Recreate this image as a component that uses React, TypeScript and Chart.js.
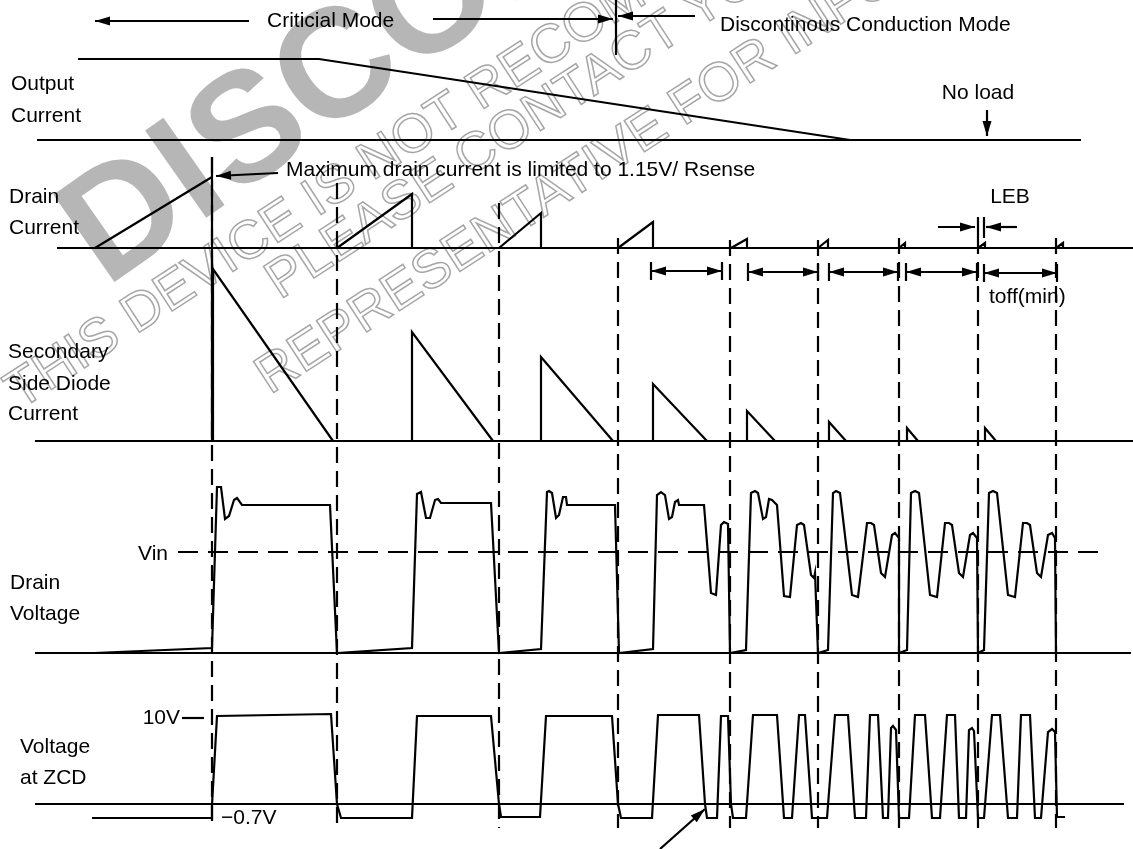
import React, { useEffect, useRef } from "react";
import { Chart, registerables } from "chart.js";

Chart.register(...registerables);

type Pt = [number, number];

// diagram units: x = time across the page, y = level (grows downwards)
const switchOnTimes = [212, 337, 499, 618, 730, 818, 899, 978, 1056];
const switchOnTops = [157, 183, 203, 238, 240, 240, 238, 238, 238];
const switchOnBottom = 828;

const outputCurrent: Pt[] = [[78, 59], [319, 59], [850, 140]];
const outputBase: Pt[] = [[37, 140], [1081, 140]];

const drainCurrentBase: Pt[] = [[57, 248], [1133, 248]];
const drainCurrentPulses: Pt[][] = [
  [[95, 248], [212, 177]],
  [[212, 157], [212, 442]],
  [[337, 248], [412, 194], [412, 248]],
  [[499, 248], [541, 213], [541, 248]],
  [[618, 248], [653, 222], [653, 248]],
  [[731, 248], [747, 239], [747, 248]],
  [[818, 248], [828, 240], [828, 248]],
  [[899, 248], [905, 243], [905, 248]],
  [[978, 248], [985, 243], [985, 248]],
  [[1056, 248], [1063, 243], [1063, 248]],
];

const diodeBase: Pt[] = [[35, 441], [1133, 441]];
const diodePulses: Pt[][] = [
  [[213, 441], [213, 269], [333, 441]],
  [[412, 441], [412, 332], [493, 441]],
  [[541, 441], [541, 357], [613, 441]],
  [[653, 441], [653, 384], [707, 441]],
  [[747, 441], [747, 411], [775, 441]],
  [[829, 441], [829, 422], [846, 441]],
  [[907, 441], [907, 428], [918, 441]],
  [[985, 441], [985, 428], [996, 441]],
];

const drainVoltageBase: Pt[] = [[35, 653], [1131, 653]];
const vinLine: Pt[] = [[178, 552], [1100, 552]];
const drainVoltage: Pt[] = [
  [94, 653], [212, 648], [217, 487], [221, 487], [225, 519], [229, 516], [234, 500], [237, 498], [242, 505], [330, 505], [337, 653],
  [412, 648], [417, 494], [421, 492], [426, 518], [430, 518], [435, 500], [438, 499], [441, 503], [491, 503], [499, 653],
  [541, 649], [547, 492], [549, 491], [552, 493], [556, 518], [559, 515], [563, 497], [566, 497], [567, 505], [615, 505], [619, 653],
  [653, 649], [657, 495], [661, 492], [665, 495], [669, 519], [672, 517], [675, 502], [678, 500], [679, 505], [704, 505],
  [711, 593], [716, 595], [721, 525], [724, 522], [728, 524], [730, 653],
  [746, 650], [751, 493], [755, 491], [758, 493], [763, 519], [766, 517], [769, 499], [772, 500], [775, 503], [777, 505],
  [784, 596], [790, 597], [797, 525], [801, 523], [804, 525], [811, 575], [814, 578], [815, 573], [818, 653],
  [828, 650], [833, 493], [836, 491], [840, 493], [852, 595], [858, 597], [867, 523], [871, 523], [874, 525],
  [881, 573], [885, 577], [892, 535], [895, 533], [899, 538], [899, 653],
  [907, 650], [911, 493], [915, 491], [919, 493], [930, 595], [937, 597], [945, 523], [949, 523], [952, 525],
  [959, 573], [963, 577], [970, 535], [973, 533], [977, 538], [978, 653],
  [984, 650], [989, 493], [993, 491], [997, 493], [1008, 595], [1015, 597], [1023, 523], [1027, 523], [1030, 525],
  [1037, 573], [1041, 577], [1048, 535], [1052, 533], [1055, 538], [1056, 653],
];

const zcdBase: Pt[] = [[35, 804], [1124, 804]];
const zcdTick10V: Pt[] = [[182, 718], [204, 718]];
const zcdVoltage: Pt[] = [
  [92, 818], [212, 818], [212, 805], [217, 716], [331, 714], [337, 804], [341, 818], [412, 818], [417, 716], [491, 716],
  [499, 804], [501, 817], [540, 817], [546, 716], [612, 716], [618, 804], [621, 818], [652, 818], [658, 715], [699, 715],
  [705, 804], [707, 818], [717, 818], [721, 716], [728, 716], [731, 804], [733, 818], [746, 818], [753, 715], [777, 715],
  [784, 818], [792, 818], [799, 715], [805, 715], [812, 818], [827, 818], [835, 715], [848, 715], [855, 818], [866, 818],
  [870, 715], [878, 715], [883, 818], [888, 818], [891, 728], [893, 726], [896, 730], [899, 818], [909, 818], [915, 715],
  [925, 715], [932, 818], [940, 818], [947, 715], [955, 715], [959, 818], [966, 818], [969, 730], [972, 728], [974, 731],
  [978, 818], [984, 818], [992, 715], [1000, 715], [1008, 818], [1017, 818], [1021, 715], [1030, 715], [1035, 818],
  [1041, 818], [1048, 732], [1052, 729], [1055, 732], [1057, 817], [1065, 817],
];

// single-headed arrows, head at the last point
const arrowShafts: Pt[][] = [
  [[249, 21], [95, 21]],
  [[433, 19], [613, 19]],
  [[695, 16], [618, 16]],
  [[987, 110], [987, 136]],
  [[278, 173], [216, 176]],
  [[938, 227], [975, 227]],
  [[1017, 227], [986, 227]],
  [[660, 849], [705, 809]],
];
const modeTick: Pt[] = [[616, 0], [616, 55]];
const lebTicks: Pt[][] = [
  [[978, 217], [978, 238]],
  [[984, 217], [984, 238]],
];
// toff(min) spans: start, end, level
const toffStarts = [651, 748, 829, 906, 984];
const toffEnds = [722, 818, 898, 977, 1057];
const toffLevels = [271, 272, 272, 272, 273];

const labelTexts = [
  "Criticial Mode", "Discontinous Conduction Mode", "Output", "Current", "No load",
  "Maximum drain current is limited to 1.15V/ Rsense", "Drain", "Current", "LEB", "toff(min)",
  "Secondary", "Side Diode", "Current", "Vin", "Drain", "Voltage", "10V", "Voltage", "at ZCD", "\u22120.7V",
];
const labelX = [267, 720, 11, 11, 978, 286, 9, 9, 1010, 989, 8, 8, 8, 168, 10, 10, 180, 20, 20, 221];
const labelY = [21, 25, 84, 116, 93, 170, 197, 228, 197, 297, 352, 384, 414, 554, 583, 614, 718, 747, 778, 818];
const labelAlign: CanvasTextAlign[] = [
  "left", "left", "left", "left", "center", "left", "left", "left", "center", "left",
  "left", "left", "left", "right", "left", "left", "right", "left", "left", "left",
];

const watermarkLines = [
  "DISCONTINUED",
  "THIS DEVICE IS NOT RECOMMENDED FOR NEW DESIGN.",
  "PLEASE CONTACT YOUR ON SEMICONDUCTOR",
  "REPRESENTATIVE FOR INFORMATION",
];
const watermarkX = [106, 20, 280, 270];
const watermarkY = [288, 410, 300, 395];
const watermarkAngle = [-35, -33, -33, -33];

const FONT = '"Liberation Sans", Arial, Helvetica, sans-serif';
const INK = "#000";

const line = (pts: Pt[], dash: number[] = []) => ({
  data: pts.map(([x, y]) => ({ x, y })),
  showLine: true,
  borderColor: INK,
  borderWidth: 2.2,
  borderDash: dash,
  pointRadius: 0,
  pointHoverRadius: 0,
  fill: false,
  tension: 0,
});

const drawHead = (ctx: CanvasRenderingContext2D, tx: number, ty: number, fx: number, fy: number) => {
  const a = Math.atan2(ty - fy, tx - fx);
  const len = 15;
  const half = 4.5;
  ctx.save();
  ctx.translate(tx, ty);
  ctx.rotate(a);
  ctx.beginPath();
  ctx.moveTo(0, 0);
  ctx.lineTo(-len, -half);
  ctx.lineTo(-len, half);
  ctx.closePath();
  ctx.fillStyle = INK;
  ctx.fill();
  ctx.restore();
};

const watermarkPlugin = {
  id: "watermark",
  beforeDatasetsDraw(chart: any) {
    const { ctx, scales } = chart;
    watermarkLines.forEach((t, i) => {
      ctx.save();
      ctx.translate(scales.x.getPixelForValue(watermarkX[i]), scales.y.getPixelForValue(watermarkY[i]));
      ctx.rotate((watermarkAngle[i] * Math.PI) / 180);
      ctx.textAlign = "left";
      ctx.textBaseline = "alphabetic";
      if (i === 0) {
        ctx.font = `bold 155px ${FONT}`;
        ctx.fillStyle = "#b6b6b6";
        ctx.fillText(t, 0, 0);
      } else {
        ctx.font = `54px ${FONT}`;
        ctx.strokeStyle = "#a6a6a6";
        ctx.lineWidth = 1.5;
        ctx.strokeText(t, 0, 0);
      }
      ctx.restore();
    });
  },
};

const annotationPlugin = {
  id: "annotations",
  afterDatasetsDraw(chart: any) {
    const { ctx, scales } = chart;
    const px = (v: number) => scales.x.getPixelForValue(v);
    const py = (v: number) => scales.y.getPixelForValue(v);
    arrowShafts.forEach((s) => {
      const a = s[s.length - 2];
      const b = s[s.length - 1];
      drawHead(ctx, px(b[0]), py(b[1]), px(a[0]), py(a[1]));
    });
    toffStarts.forEach((x0, i) => {
      const x1 = toffEnds[i];
      const y = py(toffLevels[i]);
      drawHead(ctx, px(x0), y, px(x1), y);
      drawHead(ctx, px(x1), y, px(x0), y);
    });
    ctx.save();
    ctx.fillStyle = INK;
    ctx.font = `21px ${FONT}`;
    ctx.textBaseline = "middle";
    labelTexts.forEach((t, i) => {
      ctx.textAlign = labelAlign[i];
      ctx.fillText(t, px(labelX[i]), py(labelY[i]));
    });
    ctx.restore();
  },
};

const App: React.FC = () => {
  const chartRef = useRef<HTMLCanvasElement>(null);

  useEffect(() => {
    document.body.style.margin = "0";
    document.body.style.background = "#fff";
    if (!chartRef.current) return;

    const datasets: any[] = [];
    switchOnTimes.forEach((t, i) => {
      datasets.push(line([[t, switchOnTops[i]], [t, switchOnBottom]], [16, 8]));
    });
    datasets.push(line(outputCurrent), line(outputBase));
    datasets.push(line(drainCurrentBase));
    drainCurrentPulses.forEach((p) => datasets.push(line(p)));
    datasets.push(line(diodeBase));
    diodePulses.forEach((p) => datasets.push(line(p)));
    datasets.push(line(drainVoltageBase), line(vinLine, [20, 10]), line(drainVoltage));
    datasets.push(line(zcdBase), line(zcdTick10V), line(zcdVoltage));
    arrowShafts.forEach((s) => datasets.push(line(s)));
    datasets.push(line(modeTick));
    lebTicks.forEach((s) => datasets.push(line(s)));
    toffStarts.forEach((x0, i) => {
      const x1 = toffEnds[i];
      const y = toffLevels[i];
      datasets.push(line([[x0, y], [x1, y]]));
      datasets.push(line([[x0, y - 9], [x0, y + 9]]));
      datasets.push(line([[x1, y - 9], [x1, y + 9]]));
    });

    const chart = new Chart(chartRef.current, {
      type: "scatter",
      data: { datasets },
      options: {
        animation: false,
        responsive: false,
        layout: { padding: 0 },
        plugins: { legend: { display: false }, tooltip: { enabled: false } },
        scales: {
          x: { type: "linear", min: 0, max: 1133, display: false },
          y: { type: "linear", min: 0, max: 849, reverse: true, display: false },
        },
      },
      plugins: [watermarkPlugin, annotationPlugin],
    } as any);

    return () => {
      chart.destroy();
    };
  }, []);

  return (
    <div style={{ width: 1133, height: 849, background: "#fff" }}>
      <canvas ref={chartRef} width={1133} height={849} />
    </div>
  );
};

export default App;
